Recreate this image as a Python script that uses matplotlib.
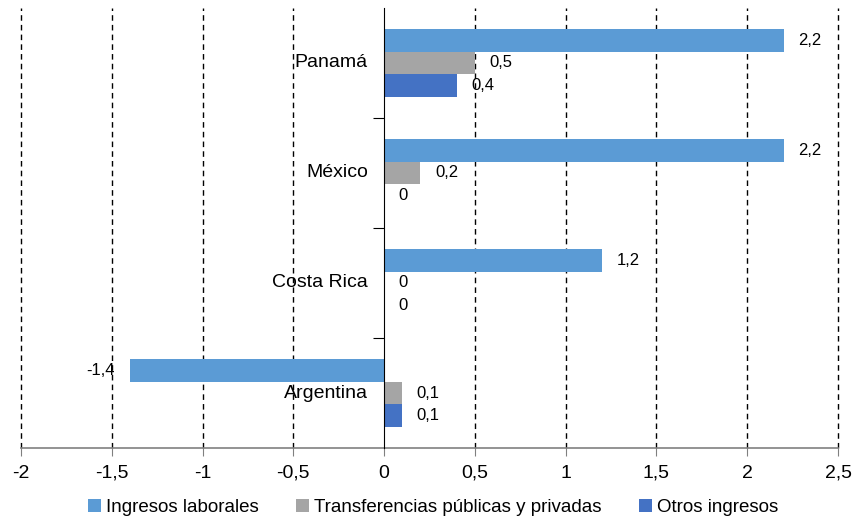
import matplotlib.pyplot as plt

paises = ['Panamá', 'México', 'Costa Rica', 'Argentina']
laborales = [2.2, 2.2, 1.2, -1.4]
transferencias = [0.5, 0.2, 0, 0.1]
otros = [0.4, 0, 0, 0.1]
series_nombres = ['Ingresos laborales', 'Transferencias públicas y privadas', 'Otros ingresos']
colores = ['#5B9BD5', '#A5A5A5', '#4472C4']
xticks = [-2, -1.5, -1, -0.5, 0, 0.5, 1, 1.5, 2, 2.5]

plt.rcParams['font.family'] = ['Liberation Sans', 'DejaVu Sans']

def fmt(v):
    return ('%g' % v).replace('.', ',')

fig = plt.figure(figsize=(8.56, 5.18), dpi=100)
ax = fig.add_axes([0.0245, 0.135, 0.9545, 0.85])

ypos = [3, 2, 1, 0]
h = 0.205
desp = [h, 0, -h]
for serie, (vals, col, d) in enumerate(zip([laborales, transferencias, otros], colores, desp)):
    ys = [y + d for y in ypos]
    ax.barh(ys, vals, height=h, color=col, label=series_nombres[serie], zorder=3)
    for y, v in zip(ys, vals):
        if v < 0:
            ax.annotate(fmt(v), (v, y), xytext=(-11, 0), textcoords='offset points',
                        ha='right', va='center', fontsize=12)
        else:
            ax.annotate(fmt(v), (v, y), xytext=(10.5, 0), textcoords='offset points',
                        ha='left', va='center', fontsize=12)

ax.set_xlim(-2, 2.5)
ax.set_ylim(-0.5, 3.5)

# vertical dashed grid
for x in xticks:
    if x != 0:
        ax.axvline(x, color='black', lw=1, ls=(0, (4, 3)), zorder=1, clip_on=False)

ax.set_xticks(xticks)
ax.set_xticklabels([fmt(x) for x in xticks], fontsize=14)
ax.tick_params(axis='x', length=6, color='#808080', pad=6)

# y axis at zero with category labels beside it
ax.spines['left'].set_position(('data', 0))
ax.spines['left'].set_color('black')
ax.spines['left'].set_zorder(4)
ax.spines['top'].set_visible(False)
ax.spines['right'].set_visible(False)
ax.spines['bottom'].set_color('#808080')
ax.spines['bottom'].set_linewidth(1.2)
ax.set_yticks([0.5, 1.5, 2.5])
ax.set_yticklabels([])
ax.tick_params(axis='y', length=8, color='black')
for y, p in zip(ypos, paises):
    ax.text(-0.09, y, p, ha='right', va='center', fontsize=14, zorder=5)

fig.legend(loc='center', bbox_to_anchor=(0.506, 0.02), ncol=3, frameon=False,
           handlelength=0.7, handleheight=0.7, handletextpad=0.25, columnspacing=2.0,
           prop={'size': 13.5})

fig.savefig('out.png', dpi=100)
